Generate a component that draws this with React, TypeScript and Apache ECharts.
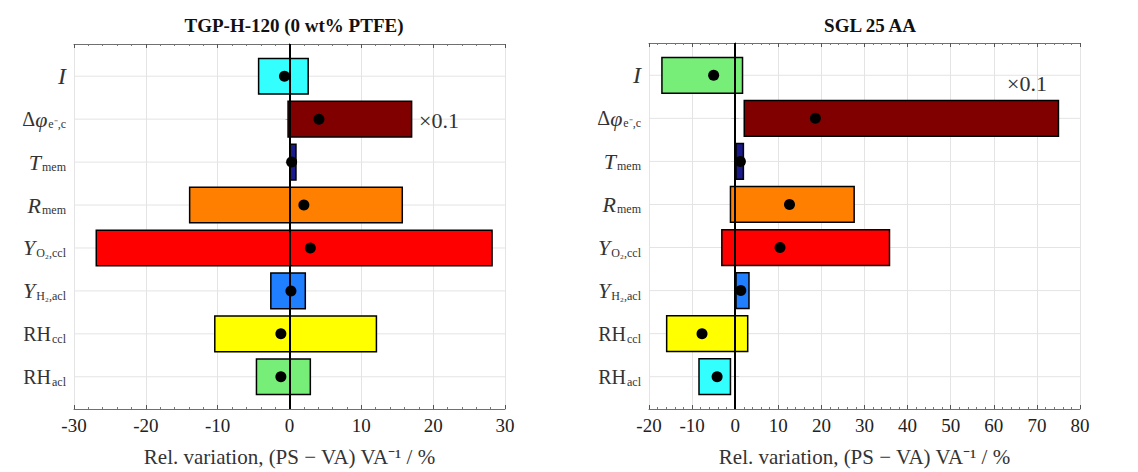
import React, { useEffect, useRef } from "react";
import * as echarts from "echarts";

const labelsRich = [
  "{itb|I}",
  "{up|Δ}{it|φ}{sub|e⁻,c}",
  "{it|T}{sub|mem}",
  "{it|R}{sub|mem}",
  "{it|Y}{sub|O₂,ccl}",
  "{it|Y}{sub|H₂,acl}",
  "{up|RH}{sub|ccl}",
  "{up|RH}{sub|acl}",
];

const leftTitle = "TGP-H-120 (0 wt% PTFE)";
const rightTitle = "SGL 25 AA";

const leftLow = [-4.3, -0.2, 0.1, -13.9, -26.9, -2.6, -10.4, -4.6];
const leftHigh = [2.6, 17.0, 0.9, 15.7, 28.2, 2.2, 12.1, 2.9];
const leftMid = [-0.7, 4.1, 0.3, 2.0, 2.9, 0.2, -1.2, -1.2];

const rightLow = [-17.0, 2.1, 0.2, -1.1, -3.1, 0.2, -15.9, -8.4];
const rightHigh = [1.7, 75.0, 1.9, 27.6, 35.8, 3.2, 2.9, -1.1];
const rightMid = [-5.0, 18.6, 1.2, 12.6, 10.4, 1.3, -7.7, -4.2];

const leftColors = ["#33ffff", "#800000", "#1a1a8c", "#ff8000", "#ff0000", "#1f7fff", "#ffff00", "#77ee77"];
const rightColors = ["#77ee77", "#800000", "#1a1a8c", "#ff8000", "#ff0000", "#1f7fff", "#ffff00", "#33ffff"];

const catPos = [1, 2, 3, 4, 5, 6, 7, 8];
const FONT = "Liberation Serif";

export default function App() {
  const ref = useRef<HTMLDivElement>(null);
  useEffect(() => {
    if (!ref.current) return;
    const chart = echarts.init(ref.current, null, { renderer: "svg" });

    const grids = [
      { left: 74, right: 1138 - 505, top: 44, bottom: 472 - 413 },
      { left: 649, right: 1138 - 1080, top: 43, bottom: 472 - 413 },
    ];
    const ranges = [
      [-30, 30],
      [-20, 80],
    ];
    const axisLine = { show: true, lineStyle: { color: "#707070", width: 1 } };

    const xAxes: any[] = [];
    const yAxes: any[] = [];
    ranges.forEach((r, g) => {
      xAxes.push({
        type: "value",
        gridIndex: g,
        position: "bottom",
        min: r[0],
        max: r[1],
        interval: 10,
        axisLine,
        axisTick: { inside: true, length: 4, lineStyle: { color: "#555" } },
        minorTick: { show: true, splitNumber: 5, length: 2, lineStyle: { color: "#777" } },
        splitLine: { show: true, lineStyle: { color: "#e4e4e4", width: 1 } },
        axisLabel: { color: "#222", fontFamily: FONT, fontSize: 19, margin: 7 },
        name: "Rel. variation, (PS − VA) VA⁻¹ / %",
        nameLocation: "middle",
        nameGap: 37,
        nameTextStyle: { color: "#333", fontFamily: FONT, fontSize: 21 },
      });
      xAxes.push({
        type: "value",
        gridIndex: g,
        position: "top",
        min: r[0],
        max: r[1],
        interval: 10,
        axisLine,
        axisTick: { inside: true, length: 4, lineStyle: { color: "#555" } },
        minorTick: { show: true, splitNumber: 5, length: 2, lineStyle: { color: "#777" } },
        splitLine: { show: false },
        axisLabel: { show: false },
      });
      yAxes.push({
        type: "value",
        gridIndex: g,
        position: "left",
        inverse: true,
        min: 0.25,
        max: 8.75,
        axisLine,
        axisTick: { inside: true, length: 4, customValues: catPos, lineStyle: { color: "#555" } },
        splitLine: { show: false },
        axisLabel: {
          customValues: catPos,
          margin: 8,
          formatter: (v: number) => labelsRich[Math.round(v) - 1] || "",
          rich: {
            itb: { fontFamily: FONT, fontStyle: "italic", fontSize: 24, color: "#333" },
            it: { fontFamily: FONT, fontStyle: "italic", fontSize: 22, color: "#333" },
            up: { fontFamily: FONT, fontSize: 20, color: "#333" },
            sub: { fontFamily: FONT, fontSize: 12, color: "#333", padding: [10, 0, 0, 1] },
          },
        },
      });
      yAxes.push({
        type: "value",
        gridIndex: g,
        position: "right",
        inverse: true,
        min: 0.25,
        max: 8.75,
        axisLine,
        axisTick: { inside: true, length: 4, customValues: catPos, lineStyle: { color: "#555" } },
        splitLine: { show: false },
        axisLabel: { show: false },
      });
    });

    const makeSeries = (g: number, low: number[], high: number[], mid: number[], colors: string[]) => {
      const xi = g * 2;
      const yi = g * 2;
      const r = ranges[g];
      return [
        {
          type: "custom",
          xAxisIndex: xi,
          yAxisIndex: yi,
          z: 1,
          silent: true,
          data: catPos.map((c) => [r[0], r[1], c]),
          encode: { x: [0, 1], y: 2 },
          renderItem: (_params: any, api: any) => {
            const p1 = api.coord([api.value(0), api.value(2)]);
            const p2 = api.coord([api.value(1), api.value(2)]);
            return {
              type: "line",
              shape: { x1: p1[0], y1: p1[1], x2: p2[0], y2: p2[1] },
              style: { stroke: "#e4e4e4", lineWidth: 1 },
            };
          },
        },
        {
          type: "custom",
          xAxisIndex: xi,
          yAxisIndex: yi,
          z: 2,
          data: low.map((l, i) => [l, high[i], catPos[i]]),
          encode: { x: [0, 1], y: 2 },
          renderItem: (params: any, api: any) => {
            const lo = api.value(0);
            const hi = api.value(1);
            const y = api.value(2);
            const p1 = api.coord([lo, y]);
            const p2 = api.coord([hi, y]);
            const h = api.size([0, 0.83])[1];
            return {
              type: "rect",
              shape: { x: p1[0], y: p1[1] - h / 2, width: p2[0] - p1[0], height: h },
              style: { fill: colors[params.dataIndex], stroke: "#000", lineWidth: 1.5 },
            };
          },
        },
        {
          type: "line",
          xAxisIndex: xi,
          yAxisIndex: yi,
          z: 3,
          data: [],
          silent: true,
          markLine: {
            silent: true,
            symbol: ["none", "none"],
            label: { show: false },
            lineStyle: { color: "#000", width: 2, type: "solid" },
            data: [{ xAxis: 0 }],
          },
        },
        {
          type: "scatter",
          xAxisIndex: xi,
          yAxisIndex: yi,
          z: 6,
          symbolSize: 11,
          itemStyle: { color: "#000", opacity: 1 },
          data: mid.map((m, i) => [m, catPos[i]]),
        },
      ];
    };

    chart.setOption({
      animation: false,
      backgroundColor: "#fff",
      title: [
        {
          text: leftTitle,
          left: 289,
          top: 11,
          textAlign: "center",
          textStyle: { fontFamily: FONT, fontWeight: "bold", fontSize: 19, color: "#111" },
        },
        {
          text: rightTitle,
          left: 865,
          top: 11,
          textAlign: "center",
          textStyle: { fontFamily: FONT, fontWeight: "bold", fontSize: 19, color: "#111" },
        },
      ],
      grid: grids,
      xAxis: xAxes,
      yAxis: yAxes,
      series: [
        ...makeSeries(0, leftLow, leftHigh, leftMid, leftColors),
        ...makeSeries(1, rightLow, rightHigh, rightMid, rightColors),
      ],
      graphic: [
        {
          type: "text",
          left: 419,
          top: 109,
          z: 10,
          style: { text: "×0.1", fontFamily: FONT, fontSize: 22, fill: "#333" },
        },
        {
          type: "text",
          left: 1007,
          top: 72,
          z: 10,
          style: { text: "×0.1", fontFamily: FONT, fontSize: 22, fill: "#333" },
        },
      ],
    });
    return () => chart.dispose();
  }, []);
  return (
    <div
      ref={ref}
      style={{ position: "absolute", left: 0, top: 0, width: 1138, height: 472 }}
    />
  );
}
